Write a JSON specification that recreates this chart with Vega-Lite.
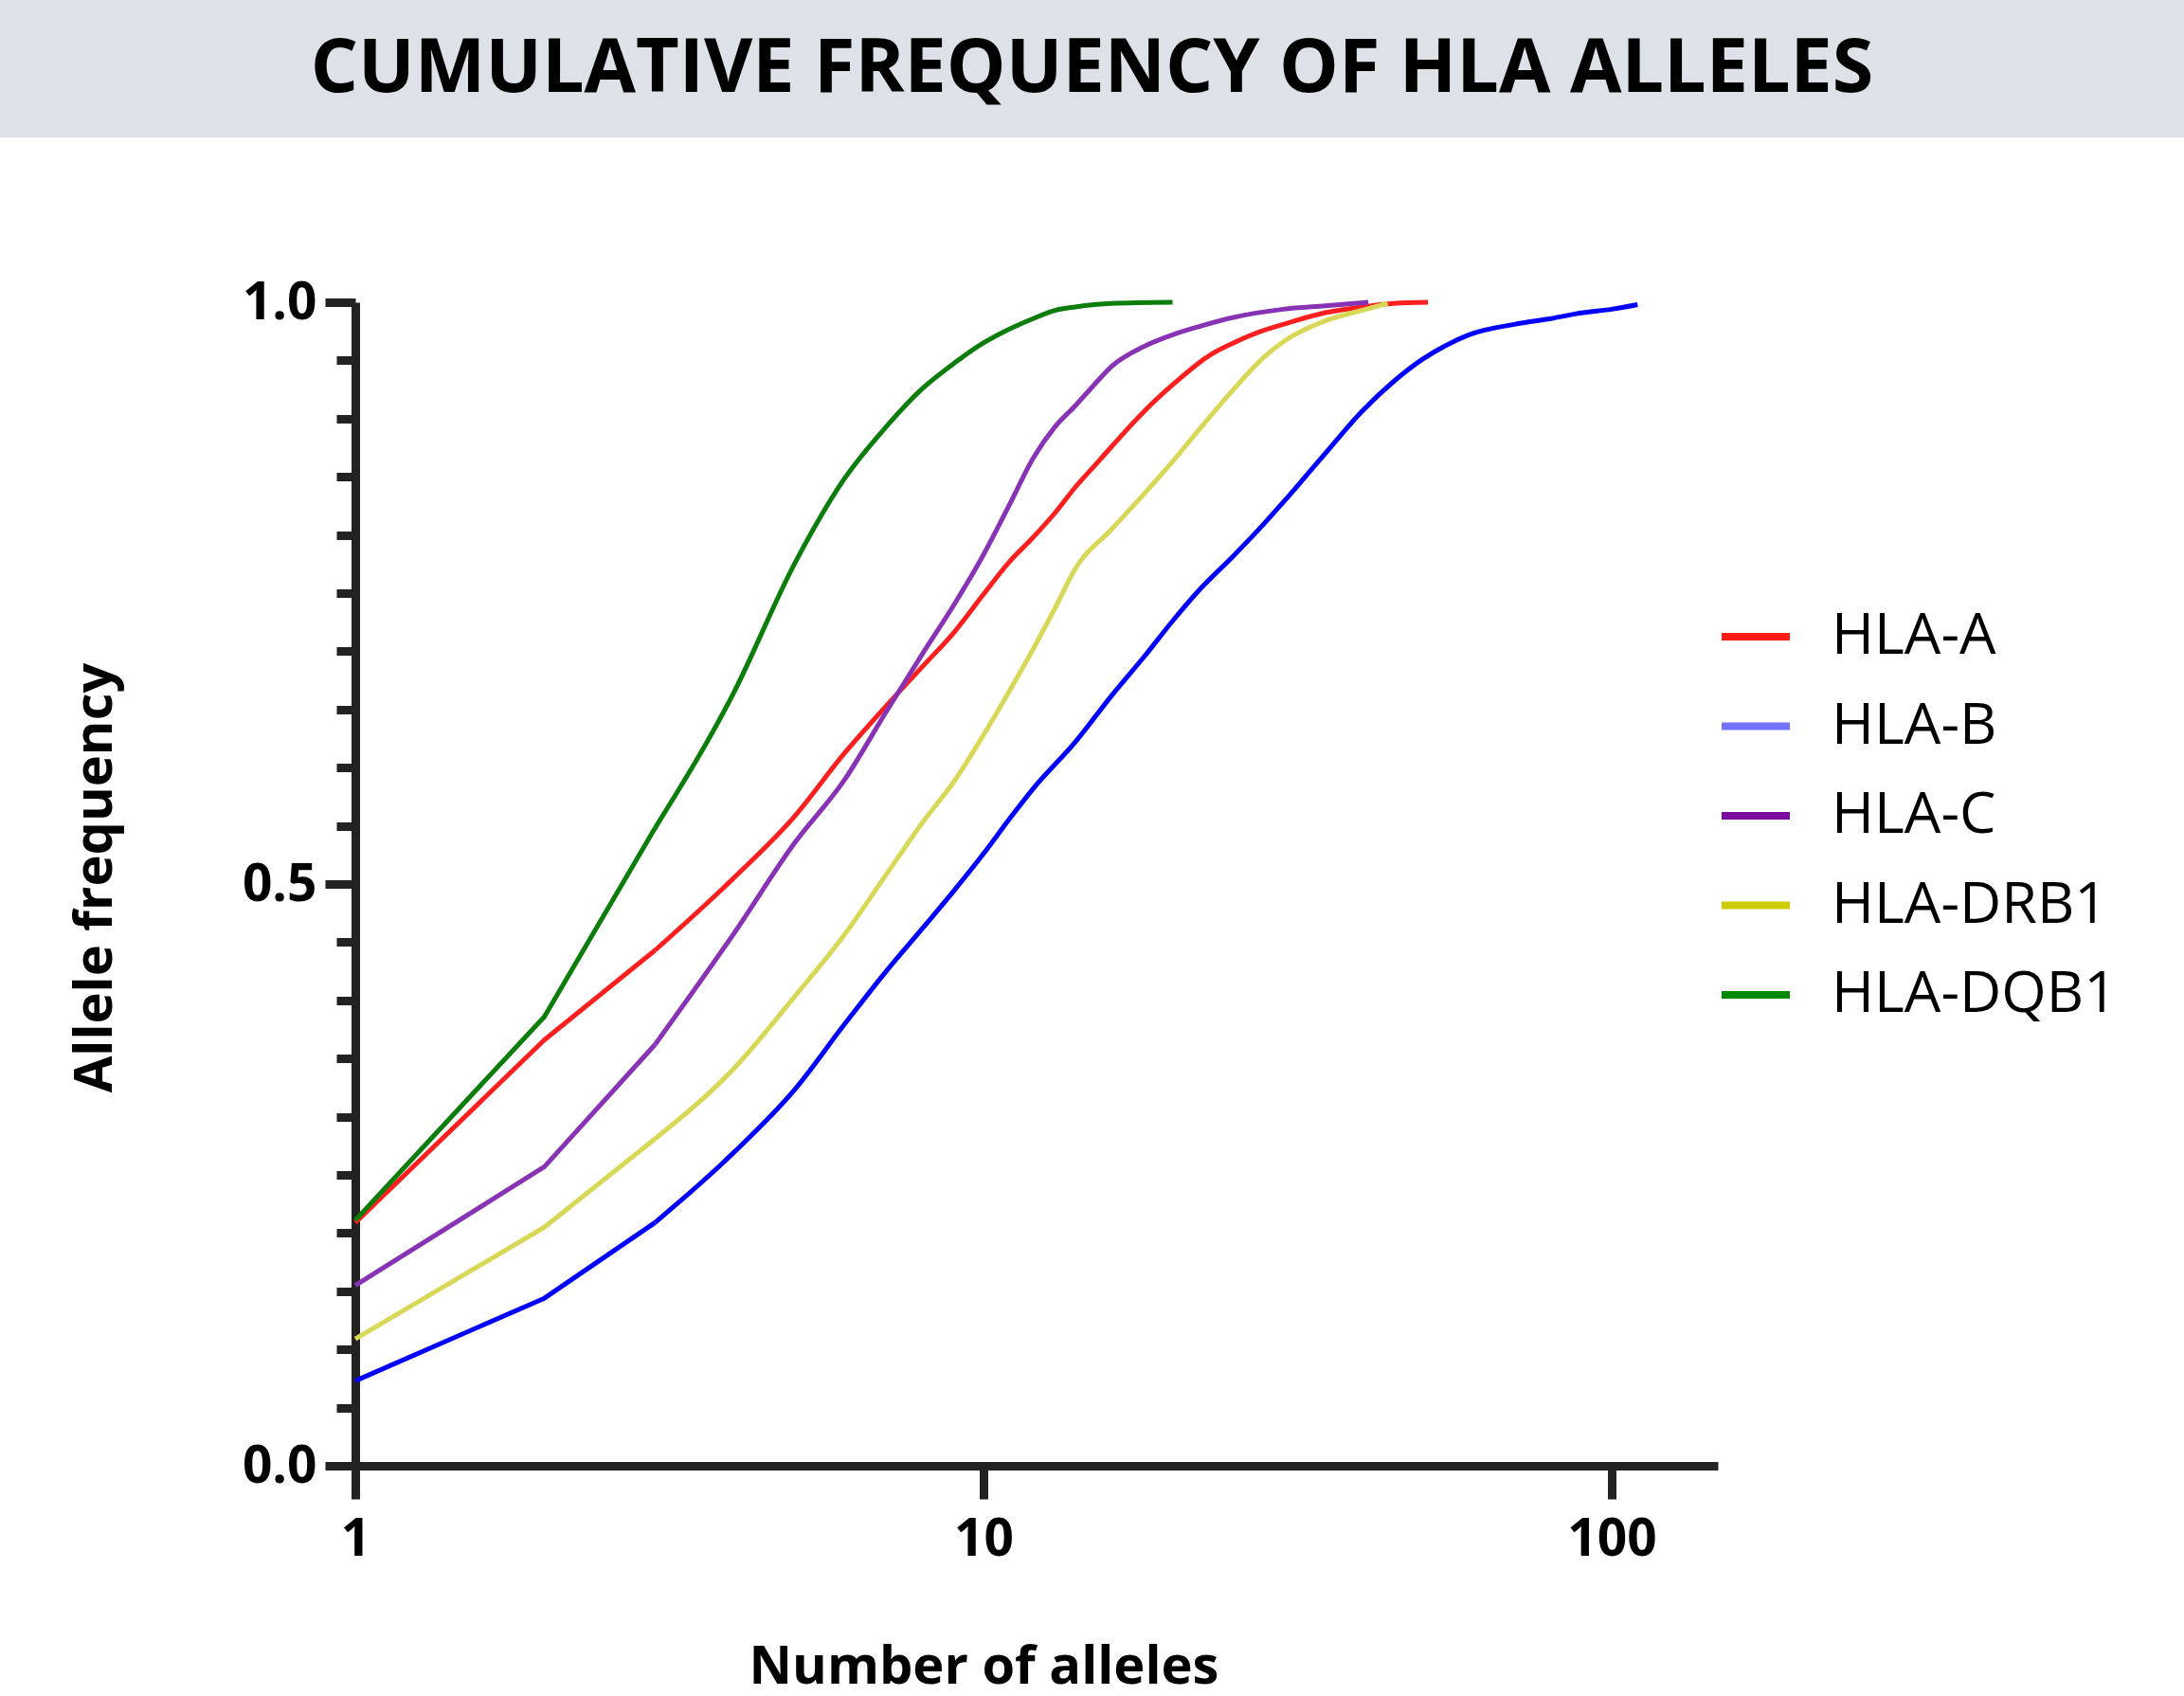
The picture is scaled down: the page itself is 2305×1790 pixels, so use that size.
{
  "$schema": "https://vega.github.io/schema/vega-lite/v6.json",
  "padding": {"left": 0, "top": 0, "right": 0, "bottom": 12},
  "background": "white",
  "config": {"view": {"stroke": null}, "font": "Open Sans"},
  "bounds": "flush",
  "spacing": 174,
  "vconcat": [
    {
      "width": 2305,
      "height": 145,
      "view": {"fill": "#dde2e8", "stroke": null},
      "data": {"values": [{"label": "CUMULATIVE FREQUENCY OF HLA ALLELES"}]},
      "mark": {"type": "text", "font": "Open Sans", "fontWeight": "bold", "fontSize": 79, "color": "black", "align": "center", "baseline": "middle"},
      "encoding": {"text": {"field": "label"}}
    },
    {
      "bounds": "flush",
      "spacing": 0,
      "hconcat": [
        {
          "width": 375,
          "height": 10,
          "data": {"values": [{"blank": ""}]},
          "mark": {"type": "text"},
          "encoding": {"text": {"field": "blank"}}
        },
        {
          "width": 1438,
          "height": 1228,
          "data": {
            "values": [
              {"locus": "HLA-A", "alleles": 1, "freq": 0.209},
              {"locus": "HLA-A", "alleles": 2, "freq": 0.366},
              {"locus": "HLA-A", "alleles": 3, "freq": 0.443},
              {"locus": "HLA-A", "alleles": 4, "freq": 0.505},
              {"locus": "HLA-A", "alleles": 5, "freq": 0.558},
              {"locus": "HLA-A", "alleles": 6, "freq": 0.612},
              {"locus": "HLA-A", "alleles": 7, "freq": 0.653},
              {"locus": "HLA-A", "alleles": 8, "freq": 0.687},
              {"locus": "HLA-A", "alleles": 9, "freq": 0.717},
              {"locus": "HLA-A", "alleles": 10, "freq": 0.749},
              {"locus": "HLA-A", "alleles": 11, "freq": 0.777},
              {"locus": "HLA-A", "alleles": 12, "freq": 0.798},
              {"locus": "HLA-A", "alleles": 13, "freq": 0.819},
              {"locus": "HLA-A", "alleles": 14, "freq": 0.841},
              {"locus": "HLA-A", "alleles": 15, "freq": 0.859},
              {"locus": "HLA-A", "alleles": 16, "freq": 0.876},
              {"locus": "HLA-A", "alleles": 18, "freq": 0.906},
              {"locus": "HLA-A", "alleles": 20, "freq": 0.929},
              {"locus": "HLA-A", "alleles": 23, "freq": 0.955},
              {"locus": "HLA-A", "alleles": 25, "freq": 0.965},
              {"locus": "HLA-A", "alleles": 28, "freq": 0.976},
              {"locus": "HLA-A", "alleles": 30, "freq": 0.981},
              {"locus": "HLA-A", "alleles": 35, "freq": 0.991},
              {"locus": "HLA-A", "alleles": 40, "freq": 0.996},
              {"locus": "HLA-A", "alleles": 45, "freq": 0.999},
              {"locus": "HLA-A", "alleles": 51, "freq": 1.0},
              {"locus": "HLA-B", "alleles": 1, "freq": 0.073},
              {"locus": "HLA-B", "alleles": 2, "freq": 0.144},
              {"locus": "HLA-B", "alleles": 3, "freq": 0.209},
              {"locus": "HLA-B", "alleles": 4, "freq": 0.269},
              {"locus": "HLA-B", "alleles": 5, "freq": 0.323},
              {"locus": "HLA-B", "alleles": 6, "freq": 0.379},
              {"locus": "HLA-B", "alleles": 7, "freq": 0.425},
              {"locus": "HLA-B", "alleles": 8, "freq": 0.462},
              {"locus": "HLA-B", "alleles": 9, "freq": 0.495},
              {"locus": "HLA-B", "alleles": 10, "freq": 0.526},
              {"locus": "HLA-B", "alleles": 11, "freq": 0.556},
              {"locus": "HLA-B", "alleles": 12, "freq": 0.582},
              {"locus": "HLA-B", "alleles": 14, "freq": 0.622},
              {"locus": "HLA-B", "alleles": 16, "freq": 0.662},
              {"locus": "HLA-B", "alleles": 18, "freq": 0.695},
              {"locus": "HLA-B", "alleles": 20, "freq": 0.726},
              {"locus": "HLA-B", "alleles": 22, "freq": 0.752},
              {"locus": "HLA-B", "alleles": 25, "freq": 0.782},
              {"locus": "HLA-B", "alleles": 28, "freq": 0.81},
              {"locus": "HLA-B", "alleles": 30, "freq": 0.828},
              {"locus": "HLA-B", "alleles": 35, "freq": 0.87},
              {"locus": "HLA-B", "alleles": 40, "freq": 0.906},
              {"locus": "HLA-B", "alleles": 45, "freq": 0.932},
              {"locus": "HLA-B", "alleles": 50, "freq": 0.951},
              {"locus": "HLA-B", "alleles": 55, "freq": 0.964},
              {"locus": "HLA-B", "alleles": 60, "freq": 0.973},
              {"locus": "HLA-B", "alleles": 70, "freq": 0.981},
              {"locus": "HLA-B", "alleles": 80, "freq": 0.986},
              {"locus": "HLA-B", "alleles": 90, "freq": 0.991},
              {"locus": "HLA-B", "alleles": 100, "freq": 0.994},
              {"locus": "HLA-B", "alleles": 110, "freq": 0.998},
              {"locus": "HLA-C", "alleles": 1, "freq": 0.155},
              {"locus": "HLA-C", "alleles": 2, "freq": 0.257},
              {"locus": "HLA-C", "alleles": 3, "freq": 0.362},
              {"locus": "HLA-C", "alleles": 4, "freq": 0.457},
              {"locus": "HLA-C", "alleles": 5, "freq": 0.535},
              {"locus": "HLA-C", "alleles": 6, "freq": 0.589},
              {"locus": "HLA-C", "alleles": 7, "freq": 0.648},
              {"locus": "HLA-C", "alleles": 8, "freq": 0.698},
              {"locus": "HLA-C", "alleles": 9, "freq": 0.741},
              {"locus": "HLA-C", "alleles": 10, "freq": 0.783},
              {"locus": "HLA-C", "alleles": 11, "freq": 0.826},
              {"locus": "HLA-C", "alleles": 12, "freq": 0.866},
              {"locus": "HLA-C", "alleles": 13, "freq": 0.893},
              {"locus": "HLA-C", "alleles": 14, "freq": 0.911},
              {"locus": "HLA-C", "alleles": 15, "freq": 0.929},
              {"locus": "HLA-C", "alleles": 16, "freq": 0.945},
              {"locus": "HLA-C", "alleles": 18, "freq": 0.962},
              {"locus": "HLA-C", "alleles": 20, "freq": 0.972},
              {"locus": "HLA-C", "alleles": 22, "freq": 0.979},
              {"locus": "HLA-C", "alleles": 25, "freq": 0.987},
              {"locus": "HLA-C", "alleles": 30, "freq": 0.994},
              {"locus": "HLA-C", "alleles": 35, "freq": 0.997},
              {"locus": "HLA-C", "alleles": 41, "freq": 1.0},
              {"locus": "HLA-DRB1", "alleles": 1, "freq": 0.109},
              {"locus": "HLA-DRB1", "alleles": 2, "freq": 0.205},
              {"locus": "HLA-DRB1", "alleles": 3, "freq": 0.281},
              {"locus": "HLA-DRB1", "alleles": 4, "freq": 0.341},
              {"locus": "HLA-DRB1", "alleles": 5, "freq": 0.403},
              {"locus": "HLA-DRB1", "alleles": 6, "freq": 0.456},
              {"locus": "HLA-DRB1", "alleles": 7, "freq": 0.508},
              {"locus": "HLA-DRB1", "alleles": 8, "freq": 0.553},
              {"locus": "HLA-DRB1", "alleles": 9, "freq": 0.589},
              {"locus": "HLA-DRB1", "alleles": 10, "freq": 0.628},
              {"locus": "HLA-DRB1", "alleles": 11, "freq": 0.666},
              {"locus": "HLA-DRB1", "alleles": 12, "freq": 0.702},
              {"locus": "HLA-DRB1", "alleles": 13, "freq": 0.737},
              {"locus": "HLA-DRB1", "alleles": 14, "freq": 0.771},
              {"locus": "HLA-DRB1", "alleles": 16, "freq": 0.805},
              {"locus": "HLA-DRB1", "alleles": 18, "freq": 0.835},
              {"locus": "HLA-DRB1", "alleles": 20, "freq": 0.863},
              {"locus": "HLA-DRB1", "alleles": 22, "freq": 0.89},
              {"locus": "HLA-DRB1", "alleles": 25, "freq": 0.925},
              {"locus": "HLA-DRB1", "alleles": 28, "freq": 0.953},
              {"locus": "HLA-DRB1", "alleles": 30, "freq": 0.966},
              {"locus": "HLA-DRB1", "alleles": 35, "freq": 0.984},
              {"locus": "HLA-DRB1", "alleles": 40, "freq": 0.993},
              {"locus": "HLA-DRB1", "alleles": 44, "freq": 0.999},
              {"locus": "HLA-DQB1", "alleles": 1, "freq": 0.211},
              {"locus": "HLA-DQB1", "alleles": 2, "freq": 0.386},
              {"locus": "HLA-DQB1", "alleles": 3, "freq": 0.548},
              {"locus": "HLA-DQB1", "alleles": 4, "freq": 0.664},
              {"locus": "HLA-DQB1", "alleles": 5, "freq": 0.775},
              {"locus": "HLA-DQB1", "alleles": 6, "freq": 0.848},
              {"locus": "HLA-DQB1", "alleles": 7, "freq": 0.893},
              {"locus": "HLA-DQB1", "alleles": 8, "freq": 0.926},
              {"locus": "HLA-DQB1", "alleles": 9, "freq": 0.948},
              {"locus": "HLA-DQB1", "alleles": 10, "freq": 0.965},
              {"locus": "HLA-DQB1", "alleles": 11, "freq": 0.977},
              {"locus": "HLA-DQB1", "alleles": 12, "freq": 0.986},
              {"locus": "HLA-DQB1", "alleles": 13, "freq": 0.993},
              {"locus": "HLA-DQB1", "alleles": 14, "freq": 0.996},
              {"locus": "HLA-DQB1", "alleles": 16, "freq": 0.999},
              {"locus": "HLA-DQB1", "alleles": 20, "freq": 1.0}
            ]
          },
          "encoding": {
            "x": {
              "field": "alleles",
              "type": "quantitative",
              "scale": {"type": "log", "domain": [1, 147.6], "nice": false},
              "axis": {
                "values": [1, 10, 100],
                "format": "d",
                "grid": false,
                "title": "Number of alleles",
                "titleFont": "Open Sans",
                "titleFontSize": 56,
                "titleFontWeight": "bold",
                "titleColor": "black",
                "titleX": 663,
                "titleY": 212,
                "titleAlign": "center",
                "titleBaseline": "middle",
                "labelFont": "Open Sans",
                "labelFontSize": 55,
                "labelFontWeight": "bold",
                "labelColor": "black",
                "labelPadding": 16,
                "labelFlush": false,
                "labelOverlap": false,
                "tickSize": 35,
                "tickWidth": 9,
                "tickColor": "#222222",
                "domainColor": "#222222",
                "domainWidth": 9
              }
            },
            "y": {
              "field": "freq",
              "type": "quantitative",
              "scale": {"domain": [0, 1], "nice": false, "zero": true},
              "axis": {
                "values": [0, 0.05, 0.1, 0.15, 0.2, 0.25, 0.3, 0.35, 0.4, 0.45, 0.5, 0.55, 0.6, 0.65, 0.7, 0.75, 0.8, 0.85, 0.9, 0.95, 1],
                "labelExpr": "abs(datum.value * 2 - round(datum.value * 2)) < 0.001 ? format(datum.value, '.1f') : ''",
                "grid": false,
                "title": "Allele frequency",
                "titleFont": "Open Sans",
                "titleFontSize": 56,
                "titleFontWeight": "bold",
                "titleColor": "black",
                "titleX": -275,
                "titleY": 607,
                "titleAngle": -90,
                "titleAlign": "center",
                "titleBaseline": "middle",
                "labelFont": "Open Sans",
                "labelFontSize": 55,
                "labelFontWeight": "bold",
                "labelColor": "black",
                "labelPadding": 9,
                "labelFlush": false,
                "labelOverlap": false,
                "tickSize": {"condition": {"test": "abs(datum.value * 2 - round(datum.value * 2)) < 0.001", "value": 32}, "value": 20},
                "tickWidth": 9,
                "tickColor": "#222222",
                "domainColor": "#222222",
                "domainWidth": 9
              }
            }
          },
          "layer": [
            {
              "mark": {"type": "line", "interpolate": "linear", "strokeWidth": 0},
              "encoding": {
                "color": {
                  "field": "locus",
                  "type": "nominal",
                  "scale": {
                    "domain": ["HLA-A", "HLA-B", "HLA-C", "HLA-DRB1", "HLA-DQB1"],
                    "range": ["#ff1a1a", "#7373ff", "#7a0aa0", "#cccc00", "#008a00"]
                  },
                  "legend": {
                    "title": null,
                    "orient": "none",
                    "legendX": 1813,
                    "legendY": 632,
                    "padding": 0,
                    "symbolType": "stroke",
                    "symbolSize": 5184,
                    "symbolStrokeWidth": 8,
                    "symbolOpacity": 1,
                    "labelFont": "Open Sans",
                    "labelFontSize": 61,
                    "labelColor": "black",
                    "labelOffset": 40,
                    "rowPadding": 24.5,
                    "labelLimit": 500
                  }
                }
              }
            },
            {
              "transform": [{"filter": "datum.alleles <= 3"}],
              "mark": {"type": "line", "interpolate": "linear", "strokeWidth": 5, "strokeJoin": "round", "clip": false},
              "encoding": {
                "stroke": {
                  "field": "locus",
                  "type": "nominal",
                  "scale": {
                    "domain": ["HLA-A", "HLA-B", "HLA-C", "HLA-DRB1", "HLA-DQB1"],
                    "range": ["#ff1f1f", "#0000ff", "#8833b5", "#d8d858", "#0b7d0b"]
                  },
                  "legend": null
                }
              }
            },
            {
              "transform": [{"filter": "datum.alleles >= 3"}],
              "mark": {"type": "line", "interpolate": "monotone", "strokeWidth": 5, "strokeJoin": "round", "clip": false},
              "encoding": {
                "stroke": {
                  "field": "locus",
                  "type": "nominal",
                  "legend": null
                }
              }
            }
          ]
        }
      ]
    }
  ]
}
